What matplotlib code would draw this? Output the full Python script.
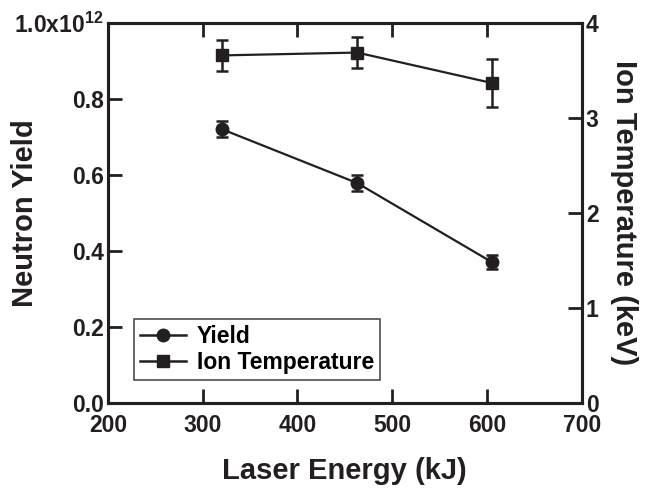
import matplotlib
matplotlib.use("Agg")
from matplotlib import pyplot as plt
from matplotlib.lines import Line2D

# данные
energy = [320, 463, 605]
neutron_yield = [0.721e12, 0.579e12, 0.371e12]
yield_err = [0.022e12, 0.021e12, 0.019e12]
ion_temp = [3.66, 3.69, 3.37]
temp_err = [0.16, 0.16, 0.25]

x_ticks = [200, 300, 400, 500, 600, 700]
y_ticks = [0.0, 0.2e12, 0.4e12, 0.6e12, 0.8e12, 1.0e12]
y_labels = ['0.0', '0.2', '0.4', '0.6', '0.8', r'1.0x10$^{\mathbf{12}}$']
t_ticks = [0, 1, 2, 3, 4]

plt.rcParams['font.family'] = ['Liberation Sans', 'DejaVu Sans']
plt.rcParams['font.weight'] = 'bold'
plt.rcParams['mathtext.fontset'] = 'custom'
plt.rcParams['mathtext.bf'] = 'Liberation Sans:bold'
plt.rcParams['mathtext.rm'] = 'Liberation Sans:bold'

ink = '#231f20'

fig = plt.figure(figsize=(6.5, 4.92), dpi=100)
ax = fig.add_axes([0.166, 0.181, 0.729, 0.772])
ax2 = ax.twinx()

# нейтронный выход
ax.errorbar(energy, neutron_yield, yerr=yield_err, color=ink, marker='o',
            markersize=9, linewidth=1.6, elinewidth=1.8, capsize=4.5, capthick=1.8)
# ионная температура
ax2.errorbar(energy, ion_temp, yerr=temp_err, color=ink, marker='s',
             markersize=9, linewidth=1.6, elinewidth=1.8, capsize=4.5, capthick=1.8)

ax.set_xlim(200, 700)
ax.set_ylim(0, 1.0e12)
ax2.set_ylim(0, 4)
ax.set_xticks(x_ticks)
ax.set_yticks(y_ticks)
ax.set_yticklabels(y_labels)
ax2.set_yticks(t_ticks)

for a in (ax, ax2):
    for s in a.spines.values():
        s.set_linewidth(2.2)
        s.set_color(ink)
    a.tick_params(direction='in', length=10, width=2, labelsize=16.5, colors=ink, pad=3)
ax.tick_params(axis='x', top=True, pad=8)

ax.set_xlabel('Laser Energy (kJ)', fontsize=21, fontweight='bold', color=ink)
ax.set_ylabel('Neutron Yield', fontsize=21, fontweight='bold', color=ink)
ax2.set_ylabel('Ion Temperature (keV)', fontsize=21, fontweight='bold', rotation=270, color=ink)
ax.xaxis.set_label_coords(0.5, -0.178)
ax.yaxis.set_label_coords(-0.175, 0.5)
ax2.yaxis.set_label_coords(1.09, 0.5)
ax.yaxis.label.set_verticalalignment('center')
ax2.yaxis.label.set_verticalalignment('center')
ax.xaxis.label.set_verticalalignment('center')

handles = [Line2D([], [], color=ink, marker='o', markersize=9, linewidth=1.8),
           Line2D([], [], color=ink, marker='s', markersize=9, linewidth=1.8)]
leg = ax.legend(handles, ['Yield', 'Ion Temperature'], loc='lower left',
                bbox_to_anchor=(0.055, 0.06), fontsize=16.5, frameon=True, fancybox=False,
                handlelength=2.0, handletextpad=0.5, borderpad=0.25, labelspacing=0.15,
                borderaxespad=0)
leg.get_frame().set_edgecolor(ink)
leg.get_frame().set_linewidth(1.2)

plt.savefig('out.png', dpi=100)
